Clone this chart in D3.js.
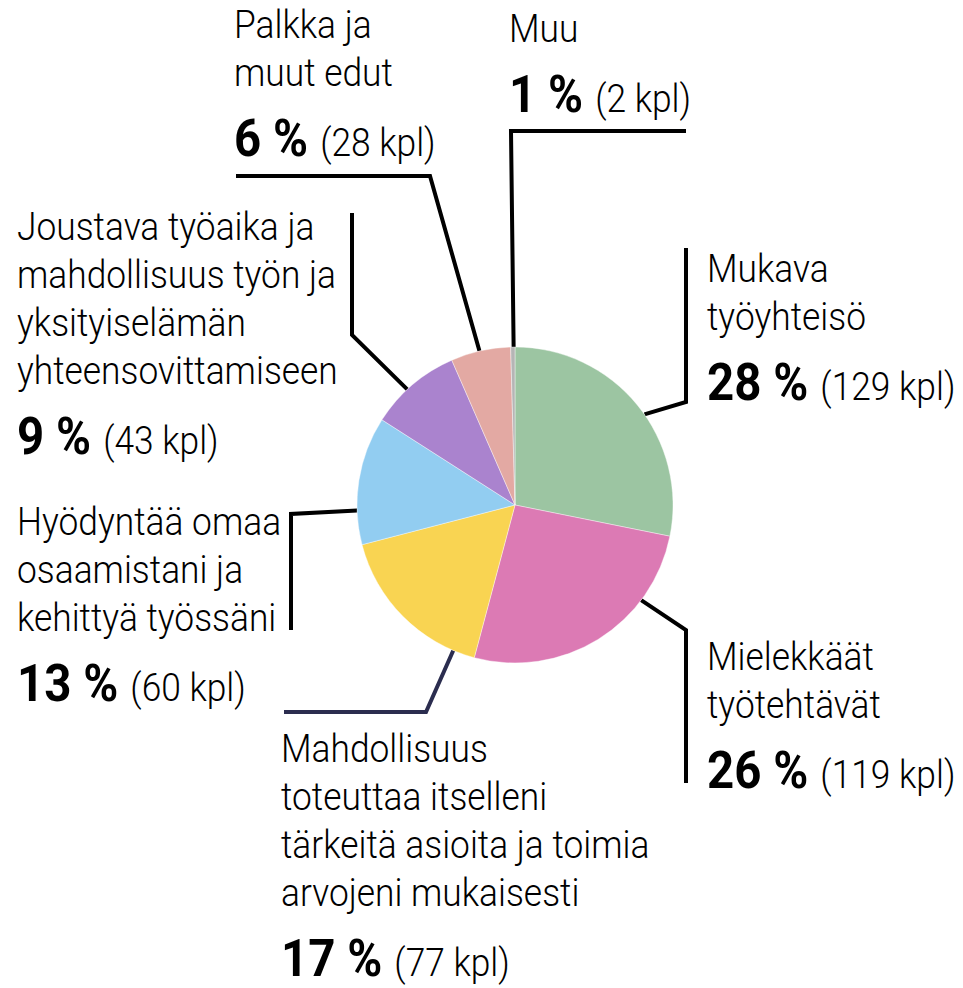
<!DOCTYPE html>
<html>
<head>
  <title>Pie chart</title>
  <style>
    body { margin: 0; background: white; }
    svg text { font-family: Roboto, "Noto Sans", sans-serif; fill: #000; }
  </style>
</head>
<body>
  <svg width="963" height="988"></svg>

  <script src="https://d3js.org/d3.v7.min.js"></script>
  <script>
    // data
    const categories = ["Mukava työyhteisö", "Mielekkäät työtehtävät",
      "Mahdollisuus toteuttaa itselleni tärkeitä asioita ja toimia arvojeni mukaisesti",
      "Hyödyntää omaa osaamistani ja kehittyä työssäni",
      "Joustava työaika ja mahdollisuus työn ja yksityiselämän yhteensovittamiseen",
      "Palkka ja muut edut", "Muu"];
    const counts = [129, 119, 77, 60, 43, 28, 2];
    const percents = [28, 26, 17, 13, 9, 6, 1];
    const colors = ["#9cc5a2", "#dc7ab4", "#f9d452", "#92cdf1", "#aa83ce", "#e3a9a3", "#b5b5b5"];

    // label layout: wrapped lines, text position, leader line
    const labels = [
      { lines: ["Mukava", "työyhteisö"], x: 707, y: 282, angle: 55, path: [[686, 402], [686, 248]] },
      { lines: ["Mielekkäät", "työtehtävät"], x: 707, y: 670, angle: 127, path: [[686, 630], [686, 783]] },
      { lines: ["Mahdollisuus", "toteuttaa itselleni", "tärkeitä asioita ja toimia", "arvojeni mukaisesti"], x: 281, y: 762, angle: 203, path: [[426, 712], [284, 712]], stroke: "#2b2d4f" },
      { lines: ["Hyödyntää omaa", "osaamistani ja", "kehittyä työssäni"], x: 17, y: 535, angle: 268, path: [[291, 514], [291, 630]] },
      { lines: ["Joustava työaika ja", "mahdollisuus työn ja", "yksityiselämän", "yhteensovittamiseen"], x: 17, y: 240, angle: 317, path: [[352, 335], [352, 213]] },
      { lines: ["Palkka ja", "muut edut"], x: 234, y: 38, angle: 347, path: [[430, 176], [236, 176]] },
      { lines: ["Muu"], x: 509, y: 42, angle: 359.5, path: [[511, 131], [686, 131]] }
    ];

    const cx = 515, cy = 505, radius = 158;
    const lineH = 48, pctGap = 70, squeeze = 0.93;

    const svg = d3.select("svg");

    // leader lines (behind the pie)
    const line = d3.line();
    svg.append("g").selectAll("path")
      .data(labels)
      .join("path")
      .attr("d", d => {
        const a = d.angle * Math.PI / 180;
        const start = [cx + radius * Math.sin(a), cy - radius * Math.cos(a)];
        return line([start, ...d.path]);
      })
      .attr("fill", "none")
      .attr("stroke", d => d.stroke || "#000")
      .attr("stroke-width", 4)
      .attr("stroke-linejoin", "miter");

    // pie
    const pie = d3.pie().sort(null).value(d => d);
    const arc = d3.arc().innerRadius(0).outerRadius(radius);
    svg.append("g")
      .attr("transform", `translate(${cx},${cy})`)
      .selectAll("path")
      .data(pie(counts))
      .join("path")
      .attr("d", arc)
      .attr("fill", (d, i) => colors[i])
      .attr("stroke", "#fff")
      .attr("stroke-width", 0.4);

    // labels
    const g = svg.append("g").selectAll("g")
      .data(labels)
      .join("g")
      .attr("transform", d => `translate(${d.x},${d.y}) scale(${squeeze},1)`);

    g.each(function (d, i) {
      const el = d3.select(this);
      d.lines.forEach((t, j) => {
        el.append("text")
          .attr("y", j * lineH)
          .attr("font-size", 38)
          .attr("font-weight", 300)
          .text(t);
      });
      const pct = el.append("text")
        .attr("y", (d.lines.length - 1) * lineH + pctGap);
      pct.append("tspan")
        .attr("font-size", 51)
        .attr("font-weight", 700)
        .text(percents[i] + " %");
      pct.append("tspan")
        .attr("font-size", 38)
        .attr("font-weight", 300)
        .attr("dx", 13)
        .text(`(${counts[i]} kpl)`);
    });
  </script>
</body>
</html>
